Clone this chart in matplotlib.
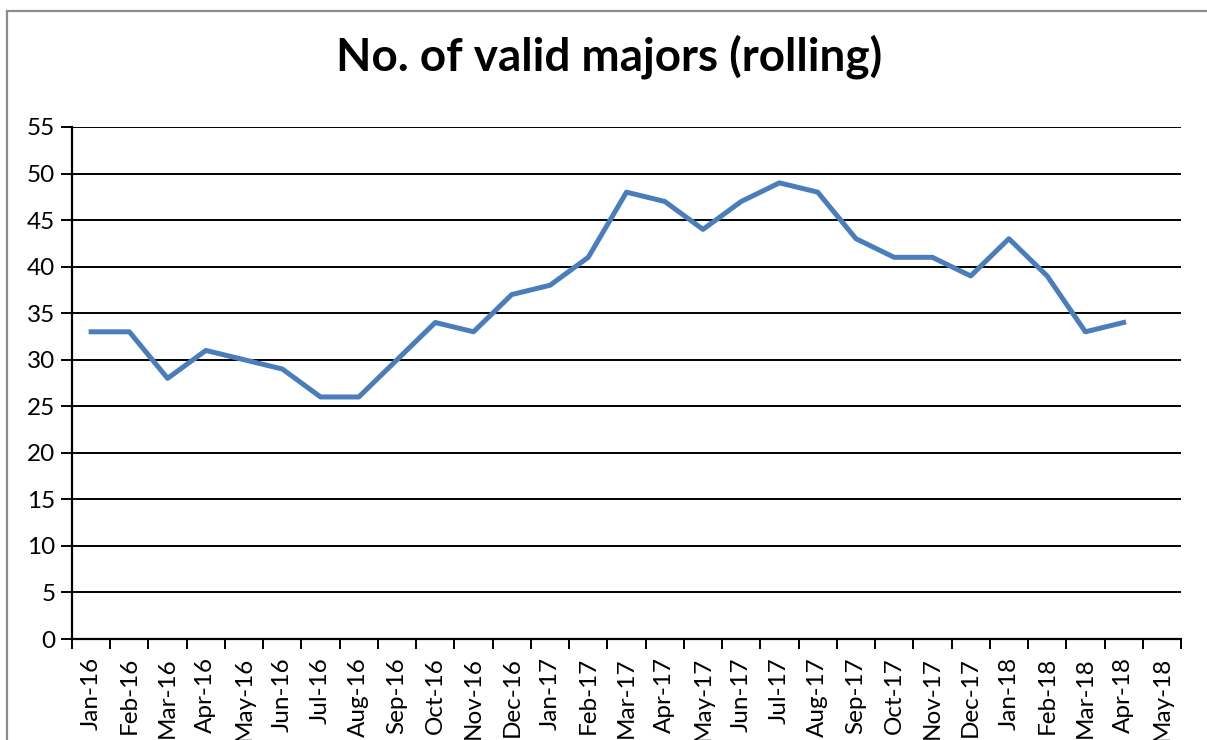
"""
No. of valid majors (rolling) - line chart
"""

import matplotlib
matplotlib.use("Agg")
import matplotlib.pyplot as plt
from matplotlib.patches import Rectangle

months = ["Jan-16", "Feb-16", "Mar-16", "Apr-16", "May-16", "Jun-16",
          "Jul-16", "Aug-16", "Sep-16", "Oct-16", "Nov-16", "Dec-16",
          "Jan-17", "Feb-17", "Mar-17", "Apr-17", "May-17", "Jun-17",
          "Jul-17", "Aug-17", "Sep-17", "Oct-17", "Nov-17", "Dec-17",
          "Jan-18", "Feb-18", "Mar-18", "Apr-18", "May-18"]
valid_majors = [33, 33, 28, 31, 30, 29, 26, 26, 30, 34, 33, 37,
                38, 41, 48, 47, 44, 47, 49, 48, 43, 41, 41, 39,
                43, 39, 33, 34]
y_ticks = list(range(0, 56, 5))

plt.rcParams['font.family'] = ['Lato', 'DejaVu Sans']

fig = plt.figure(figsize=(12.07, 7.4), dpi=100)
ax = fig.add_axes([72 / 1207, 1 - 639 / 740, (1181 - 72) / 1207, (639 - 127) / 740])

# outer chart frame (gray)
fig.patches.append(Rectangle((7 / 1207, -0.1), 1.2, 1 - 11 / 740 + 0.1,
                             transform=fig.transFigure, fill=False,
                             edgecolor="#8c8c8c", linewidth=1.6))

x = list(range(len(valid_majors)))
ax.plot(x, valid_majors, color="#4a7ebb", linewidth=3.6, solid_joinstyle="round")

ax.set_xlim(-0.5, len(months) - 0.5)
ax.set_ylim(0, 55)
ax.set_yticks(y_ticks)
ax.set_yticklabels([str(v) for v in y_ticks], fontsize=17.5)
ax.yaxis.grid(True, color="black", linewidth=1.4)
ax.set_axisbelow(True)

# category labels centred, ticks on the boundaries
ax.set_xticks(range(len(months)))
ax.set_xticklabels(months, rotation=90, fontsize=17.5, va="top", ha="center")
ax.set_xticks([i - 0.5 for i in range(len(months) + 1)], minor=True)
ax.tick_params(axis="x", which="major", length=0, pad=13)
ax.tick_params(axis="x", which="minor", length=7, width=1.4, color="black")
ax.tick_params(axis="y", length=8, width=1.4, pad=4)

for side in ["top", "right"]:
    ax.spines[side].set_visible(False)
ax.spines["left"].set_linewidth(1.6)
ax.spines["bottom"].set_linewidth(1.6)

fig.text(609 / 1207, 1 - 57 / 740, "No. of valid majors (rolling)",
         ha="center", va="center", fontsize=33, fontweight="bold")

fig.savefig("out.png", dpi=100)
